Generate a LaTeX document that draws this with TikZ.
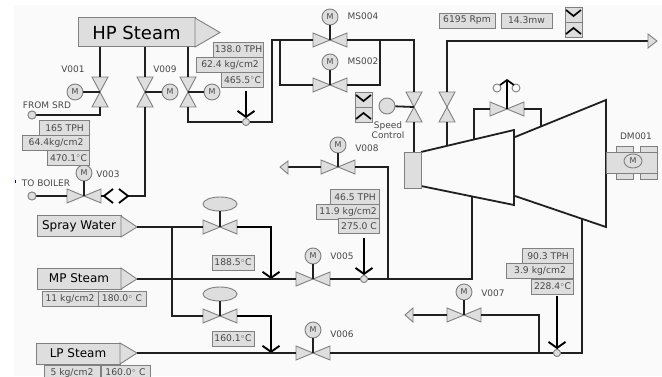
\documentclass[tikz,border=0pt]{standalone}
\usepackage{fontspec}
\setmainfont{DejaVu Sans}
\usepackage{xcolor}
\usepackage{tikz}
\usetikzlibrary{arrows.meta,positioning,shapes.geometric}
\definecolor{panel}{HTML}{FAFAFA}
\definecolor{boxfill}{HTML}{DEDEDE}
\definecolor{boxline}{HTML}{808080}
\definecolor{pipeline}{HTML}{202020}
\definecolor{labelgray}{HTML}{484848}
\tikzset{
  pipe/.style={draw=pipeline, line width=1.8pt, line join=miter},
  flow/.style={draw=black, line width=1.8pt, -{Straight Barb[length=6pt,width=17pt,line width=1.9pt]}},
  valvebody/.style={draw=boxline, fill=boxfill, line width=0.9pt},
  motor/.style={circle, draw=boxline, fill=boxfill, line width=0.9pt, minimum size=16pt, inner sep=0pt, font=\fontsize{8}{8}\selectfont, text=labelgray},
  joint/.style={circle, draw=boxline, fill=boxfill, line width=0.8pt, minimum size=7pt, inner sep=0pt},
  tag/.style={draw=boxline, fill=boxfill, line width=0.9pt, minimum height=15pt, inner sep=0pt, font=\fontsize{9.2}{10}\selectfont, text=labelgray},
  plain/.style={inner sep=0pt, font=\fontsize{9}{10.5}\selectfont, text=labelgray},
  header/.style={draw=boxline, fill=boxfill, line width=1pt, inner sep=0pt, font=\fontsize{12}{13}\selectfont, text=black},
  tip/.style={draw=boxline, fill=boxfill, line width=0.9pt},
}
% valves: name, x, y
\newcommand{\hvalve}[3]{%
  \coordinate (#1) at (#2,#3);
  \coordinate (#1-l) at (#2-17,#3);
  \coordinate (#1-r) at (#2+17,#3);
  \draw[valvebody] (#2-17,#3-7) -- (#2,#3) -- (#2-17,#3+7) -- cycle;
  \draw[valvebody] (#2+17,#3-7) -- (#2,#3) -- (#2+17,#3+7) -- cycle;
}
\newcommand{\vvalve}[3]{%
  \coordinate (#1) at (#2,#3);
  \coordinate (#1-t) at (#2,#3-15);
  \coordinate (#1-b) at (#2,#3+15);
  \draw[valvebody] (#2-8,#3-15) -- (#2,#3) -- (#2+8,#3-15) -- cycle;
  \draw[valvebody] (#2-8,#3+15) -- (#2,#3) -- (#2+8,#3+15) -- cycle;
}
% shutter symbol: x, y of the top left corner
\newcommand{\shutter}[2]{%
  \draw[valvebody] (#1,#2) rectangle (#1+17,#2+30);
  \draw[boxline, line width=0.9pt] (#1,#2+15) -- (#1+17,#2+15);
  \draw[black, line width=1.7pt] (#1+1,#2+3) -- (#1+8.5,#2+9) -- (#1+16,#2+3);
  \draw[black, line width=1.7pt] (#1+1,#2+27) -- (#1+8.5,#2+21) -- (#1+16,#2+27);
}
\begin{document}
\begin{tikzpicture}[x=1pt,y=-1pt]
  \useasboundingbox (0,0) rectangle (662,377);
  \clip (0,0) rectangle (662,377);
  \fill[panel] (14,5) rectangle (662,376);
  \fill[blue!70!black] (14.5,180) rectangle (15.5,183);
  % Turbine
  \draw[pipe] (515,137) -- (606,100) -- (606,227) -- (515,196);
  \draw[pipe] (421,152) -- (514,130) -- (514,205) -- (421,186);
  \node[draw=boxline, fill=boxfill, line width=0.9pt, minimum width=17pt, minimum height=36pt, inner sep=0pt] (inlet) at (412.5,170) {};
  \coordinate (hpshell) at (447,145);
  \coordinate (bypassa) at (474,139);
  \coordinate (bypassb) at (541,126);
  \coordinate (lpshell) at (582,219);
  \coordinate (mpshell) at (472,197);
  % Driven machine
  \node[draw=boxline, fill=boxfill, line width=0.9pt, minimum width=51pt, minimum height=21pt, inner sep=0pt] (dmbody) at (632,162.5) {};
  \foreach \bx in {616,640}{
    \draw[valvebody] (\bx,146) rectangle (\bx+17,152);
    \draw[valvebody] (\bx,173) rectangle (\bx+17,179);
  }
  \node[ellipse, draw=boxline, line width=0.9pt, minimum width=18pt, minimum height=14pt, inner sep=0pt, font=\fontsize{8}{8}\selectfont, text=labelgray] (dmmotor) at (633,161) {M};
  \node[plain] (dmlabel) at (636,136) {DM001};
  % Headers
  \node[header, font=\fontsize{18}{19}\selectfont, minimum width=117pt, minimum height=29pt] (hp) at (136.5,32.5) {HP Steam};
  \draw[tip] (195,18) -- (220,32.5) -- (195,47) -- cycle;
  \node[header, minimum width=84pt, minimum height=21pt] (spray) at (79,226.5) {Spray Water};
  \draw[tip] (121,216) -- (137,227) -- (121,237) -- cycle;
  \node[header, minimum width=84pt, minimum height=21pt] (mp) at (79,278.5) {MP Steam};
  \draw[tip] (121,268) -- (137,279) -- (121,289) -- cycle;
  \node[header, minimum width=84pt, minimum height=21pt] (lp) at (78,353.5) {LP Steam};
  \draw[tip] (120,343) -- (137,353) -- (120,364) -- cycle;
  % Valves
  \vvalve{v001}{100}{92}
  \vvalve{v009}{145}{92}
  \vvalve{v010}{188}{92}
  \vvalve{v011}{414}{107}
  \vvalve{v012}{447}{107}
  \hvalve{v003}{84}{196}
  \hvalve{ms004}{330}{40}
  \hvalve{ms002}{330}{85}
  \hvalve{v008}{338}{167}
  \hvalve{v005}{313}{279}
  \hvalve{v006}{313}{353}
  \hvalve{v007}{464}{315}
  \hvalve{spraya}{220}{227}
  \hvalve{sprayb}{220}{316}
  \hvalve{bypass}{507}{109}
  % Shutters
  \shutter{355}{92}
  \shutter{565}{7}
  % Motors and actuators
  \node[motor] (mv001) at (75,92) {M};
  \node[motor] (mv009) at (170,92) {M};
  \node[motor] (mv010) at (212,92) {M};
  \node[motor] (mv003) at (84,173) {M};
  \node[motor] (mms004) at (330,17) {M};
  \node[motor] (mms002) at (330,62) {M};
  \node[motor] (mv008) at (338,145) {M};
  \node[motor] (mv005) at (313,256) {M};
  \node[motor] (mv006) at (313,330) {M};
  \node[motor] (mv007) at (464,292) {M};
  \node[motor, minimum size=16pt] (speed) at (387,106) {};
  \node[ellipse, draw=boxline, fill=boxfill, line width=0.9pt, minimum width=34pt, minimum height=14pt, inner sep=0pt] (acta) at (220,204) {};
  \node[ellipse, draw=boxline, fill=boxfill, line width=0.9pt, minimum width=34pt, minimum height=14pt, inner sep=0pt] (actb) at (220,294) {};
  % Stems
  \draw[pipe] (mv001) -- (v001);
  \draw[pipe] (mv009) -- (v009);
  \draw[pipe] (mv010) -- (v010);
  \draw[pipe] (mv003) -- (v003);
  \draw[pipe] (mms004) -- (ms004);
  \draw[pipe] (mms002) -- (ms002);
  \draw[pipe] (mv008) -- (v008);
  \draw[pipe] (mv005) -- (v005);
  \draw[pipe] (mv006) -- (v006);
  \draw[pipe] (mv007) -- (v007);
  \draw[pipe] (speed) -- (v011);
  \draw[pipe] (acta) -- (spraya);
  \draw[pipe] (actb) -- (sprayb);
  % Junctions and free ends
  \node[joint, minimum size=8pt] (srd) at (32,115) {};
  \node[joint, minimum size=8pt] (boiler) at (32,196) {};
  \node[joint] (j1) at (246,122) {};
  \node[joint] (j2) at (364,279) {};
  \node[joint] (j3) at (557,353) {};
  \coordinate (j4) at (271,279);
  \coordinate (j5) at (271,353);
  \coordinate (chevl) at (104,196);
  \coordinate (chevr) at (128,196);
  % HP steam pipes
  \draw[pipe] (v001-t |- hp.south) -- (v001-t);
  \draw[pipe] (v009-t |- hp.south) -- (v009-t);
  \draw[pipe] (v010-t |- hp.south) -- (v010-t);
  \draw[pipe] (v001-b) |- (srd);
  \draw[pipe] (v009-b) |- (chevr);
  \draw[pipe] (v003-r) -- (chevl);
  \draw[pipe] (boiler) -- (v003-l);
  \draw[pipe] (v010-b) |- (j1);
  \draw[pipe] (j1) -| (272,40) -- (ms004-l);
  \draw[pipe] (280,40) |- (ms002-l);
  \draw[pipe] (ms002-r) -| (380,40);
  \draw[pipe] (ms004-r) -| (v011-t);
  \draw[pipe] (v011-b) -- (inlet.north -| v011-b);
  \draw[pipe] (hpshell) -- (v012-b);
  \draw[pipe] (v012-t) |- (648,41);
  \draw[tip] (648,34) -- (657,41) -- (648,48) -- cycle;
  % Double chevrons beside V003
  \draw[black, line width=1.8pt] (113,189) -- (chevl) -- (113,203);
  \draw[black, line width=1.8pt] (119,189) -- (chevr) -- (119,203);
  % Bypass over the turbine
  \draw[pipe] (bypassa) |- (bypass-l);
  \draw[pipe] (bypass-r) -| (bypassb);
  \draw[tip, fill=panel] (497,88) circle (4);
  \draw[tip, fill=panel] (516,88) circle (4);
  \draw[draw=black, line width=1.8pt, -{Straight Barb[length=5pt,width=14pt,line width=1.7pt]}] (bypass) -- (507,79);
  % Spray water pipes
  \coordinate (splitS) at (172,227);
  \draw[pipe] (137,227) -- (spraya-l);
  \draw[pipe] (splitS) |- (sprayb-l);
  \draw[flow] (spraya-r) -| (j4);
  \draw[flow] (sprayb-r) -| (j5);
  % MP and LP pipes
  \draw[pipe] (137,279) -- (v005-l);
  \draw[pipe] (v005-r) -- (j2);
  \draw[pipe] (j2) -| (mpshell);
  \draw[pipe] (137,353) -- (v006-l);
  \draw[pipe] (v006-r) -- (j3);
  \draw[pipe] (j3) -| (lpshell);
  % V008 and V007 branches
  \draw[pipe] (v008-r) -| (388,279);
  \draw[pipe] (v008-l) -- (288,167);
  \draw[tip] (288,161) -- (280,167) -- (288,174) -- cycle;
  \draw[pipe] (v007-r) -| (539,353);
  \draw[pipe] (v007-l) -- (413,315);
  \draw[tip] (413,308) -- (405,315) -- (413,322) -- cycle;
  % Redraw joints over the pipes
  \node[joint, minimum size=8pt] at (srd) {};
  \node[joint, minimum size=8pt] at (boiler) {};
  \node[joint] at (j1) {};
  \node[joint] at (j2) {};
  \node[joint] at (j3) {};
  % Readings
  \node[tag, minimum width=50pt, anchor=east] (t138) at (264,49.5) {138.0 TPH};
  \node[tag, minimum width=67pt, anchor=east] (t624) at (264,64.5) {62.4 kg/cm2};
  \node[tag, minimum width=42pt, anchor=east] (t465) at (264,80) {465.5$^{\circ}$C};
  \node[tag, minimum width=50pt, anchor=east] (t165) at (90,128) {165 TPH};
  \node[tag, minimum width=67pt, anchor=east] (t644) at (90,143) {64.4kg/cm2};
  \node[tag, minimum width=42pt, anchor=east] (t470) at (90,158) {470.1$^{\circ}$C};
  \node[tag, minimum width=49pt, anchor=east] (t465b) at (380,197) {46.5 TPH};
  \node[tag, minimum width=63pt, anchor=east] (t119) at (380,211.5) {11.9 kg/cm2};
  \node[tag, minimum width=41pt, anchor=east] (t275) at (380,226) {275.0 C};
  \node[tag, minimum width=51pt, anchor=east] (t903) at (574,256) {90.3 TPH};
  \node[tag, minimum width=67pt, anchor=east] (t39) at (574,271) {3.9 kg/cm2};
  \node[tag, minimum width=42pt, anchor=east] (t228) at (574,286.5) {228.4$^{\circ}$C};
  \node[tag, minimum width=42pt] (t188) at (233,262.5) {188.5$^{\circ}$C};
  \node[tag, minimum width=42pt] (t160) at (233,338.5) {160.1$^{\circ}$C};
  \node[tag, minimum width=56pt] (t11) at (70,298.5) {11 kg/cm2};
  \node[tag, minimum width=48pt] (t180) at (122,298.5) {180.0$^{\circ}$ C};
  \node[tag, minimum width=56pt] (t5) at (72,372.5) {5 kg/cm2};
  \node[tag, minimum width=49pt] (t160b) at (125.5,372.5) {160.0$^{\circ}$ C};
  \node[tag, minimum width=56pt] (rpm) at (467,20.5) {6195 Rpm};
  \node[tag, minimum width=51pt] (mw) at (526.5,20.5) {14.3mw};
  % Reading arrows
  \draw[flow] (j1 |- t465.south) ++(0,3) -- (j1.north);
  \draw[flow] (j2 |- t275.south) ++(0,4) -- (j2.north);
  \draw[flow] (j3 |- t228.south) ++(0,2) -- (j3.north);
  % Labels
  \node[plain] (lv001) at (73,69) {V001};
  \node[plain] (lv009) at (165,69) {V009};
  \node[plain] (lv003) at (108,174) {V003};
  \node[plain] (lsrd) at (47,105) {FROM SRD};
  \node[plain] (lboiler) at (46,183) {TO BOILER};
  \node[plain] (lms004) at (363,16) {MS004};
  \node[plain] (lms002) at (363,61) {MS002};
  \node[plain, align=center] (lspeed) at (388,130) {Speed\\Control};
  \node[plain] (lv008) at (367,148) {V008};
  \node[plain] (lv005) at (342,256) {V005};
  \node[plain] (lv006) at (342,334) {V006};
  \node[plain] (lv007) at (493,293) {V007};
\end{tikzpicture}
\end{document}
